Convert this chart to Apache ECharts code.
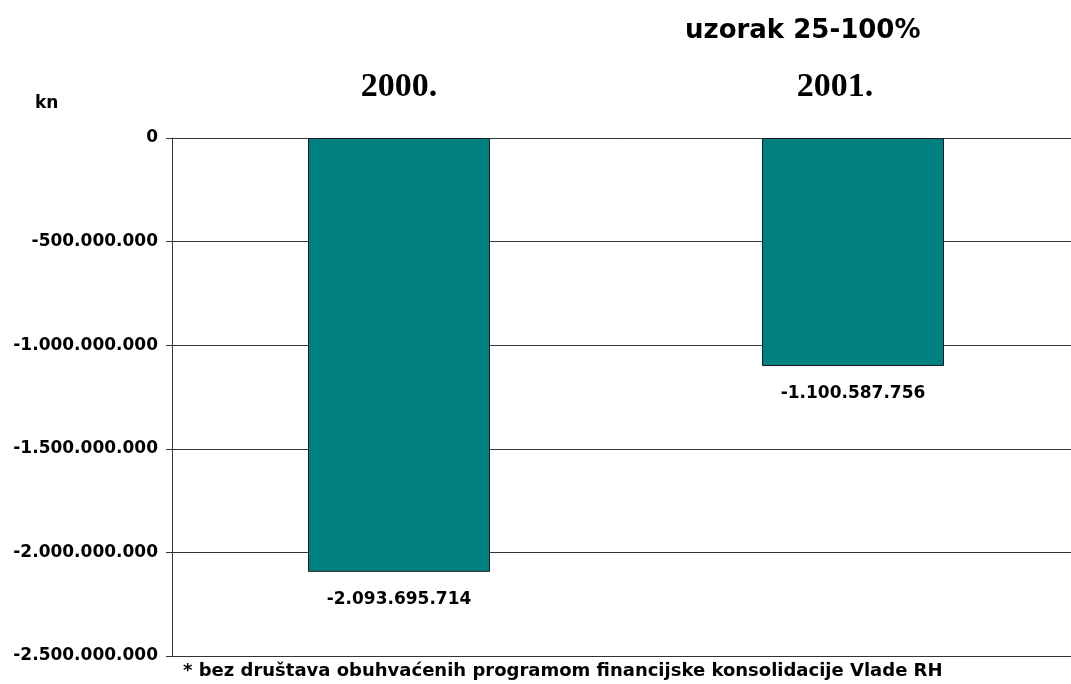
<!DOCTYPE html>
<html lang="hr" style="height: 100%">
<head>
  <meta charset="utf-8">
</head>
<body style="height: 100%; margin: 0; background: #fff">
  <div id="container" style="width: 1071px; height: 684px"></div>

  <script type="text/javascript" src="https://cdn.jsdelivr.net/npm/echarts@6/dist/echarts.min.js"></script>

  <script type="text/javascript">
    var dom = document.getElementById('container');
    var myChart = echarts.init(dom, null, { renderer: 'canvas' });

    const years = ['2000.', '2001.'];
    const values = [-2093695714, -1100587756];
    const yTicks = [0, -500000000, -1000000000, -1500000000, -2000000000, -2500000000];

    function fmt(n) {
      const s = Math.abs(Math.round(n)).toString().replace(/\B(?=(\d{3})+(?!\d))/g, '.');
      return (n < 0 ? '-' : '') + s;
    }

    const sans = '"DejaVu Sans", Arial, sans-serif';

    const option = {
      animation: false,
      grid: { left: 172, width: 908, top: 138, bottom: 28, containLabel: false, outerBoundsMode: 'none' },
      graphic: [
        {
          type: 'text', left: 685, top: 18,
          style: { text: 'uzorak 25-100%', fontFamily: sans, fontWeight: 'bold', fontSize: 26, fill: '#000' }
        },
        {
          type: 'text', left: 35, top: 95,
          style: { text: 'kn', fontFamily: sans, fontWeight: 'bold', fontSize: 17, fill: '#000' }
        },
        {
          type: 'text', left: 183, top: 662,
          style: {
            text: '* bez društava obuhvaćenih programom financijske konsolidacije Vlade RH',
            fontFamily: sans, fontWeight: 'bold', fontSize: 18, fill: '#000'
          }
        }
      ],
      xAxis: {
        type: 'category',
        data: years,
        position: 'top',
        axisLine: { show: true, lineStyle: { color: '#333', width: 1 } },
        axisTick: { show: false },
        axisLabel: {
          margin: 34,
          formatter: function (v, i) { return i === 1 ? '{b|' + v + '}' : '{a|' + v + '}'; },
          rich: {
            a: { fontFamily: '"Liberation Serif", "Times New Roman", serif', fontWeight: 'bold', fontSize: 34, color: '#000' },
            b: { fontFamily: '"Liberation Serif", "Times New Roman", serif', fontWeight: 'bold', fontSize: 34, color: '#000', padding: [0, 36, 0, 0] }
          }
        }
      },
      yAxis: {
        type: 'value',
        min: -2500000000,
        max: 0,
        interval: 500000000,
        axisLine: { show: true, lineStyle: { color: '#333', width: 1 } },
        axisTick: { show: true, inside: false, length: 6, lineStyle: { color: '#333' } },
        splitLine: { show: true, lineStyle: { color: '#333', width: 1 } },
        axisLabel: {
          margin: 14,
          color: '#000',
          fontFamily: sans,
          fontWeight: 'bold',
          fontSize: 17,
          customValues: yTicks,
          formatter: function (v) { return fmt(v); }
        }
      },
      series: [
        {
          type: 'bar',
          data: values,
          barWidth: 182,
          itemStyle: { color: '#008080', borderColor: '#1a1a1a', borderWidth: 1 },
          label: {
            show: true,
            position: 'bottom',
            distance: 19,
            color: '#000',
            fontFamily: sans,
            fontWeight: 'bold',
            fontSize: 17,
            formatter: function (p) { return fmt(p.value); }
          }
        }
      ]
    };

    myChart.setOption(option);
    window.addEventListener('resize', myChart.resize);
  </script>
</body>
</html>
